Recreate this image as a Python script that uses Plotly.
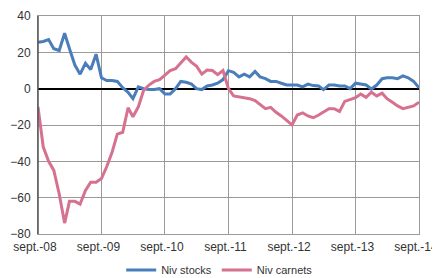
import plotly.graph_objects as go
import pandas as pd

months = pd.date_range("2008-09-01", "2014-09-01", freq="MS")

niv_stocks = [25.5, 26, 27, 22, 21, 30.5, 22, 13, 8, 14, 10.5, 19,
              6, 4.5, 4.5, 4, 0.5, -2, -5.5, 1, 0, -0.5, -0.5, 0,
              -3, -3, 0, 4, 3.5, 2.5, 0, -0.5, 1.5, 2, 3, 5,
              9.9, 9, 6.5, 8, 6.5, 9.5, 6.5, 5.5, 4, 4, 3, 2,
              2, 2, 1, 2.5, 1.7, 1.5, -0.5, 2, 2, 1.5, 1.5, 0,
              3, 2.5, 2, -0.2, 2, 5.5, 6, 6, 5.5, 7, 6, 4, 0.5]

niv_carnets = [-10, -32, -40, -45, -58, -74, -62, -62, -63.5, -56, -51.5, -51.5,
               -49.5, -43, -35, -25, -24, -10.5, -15.5, -10, -1, 2, 4, 5,
               7.5, 10, 11, 14.5, 17.5, 14.5, 12.5, 8, 10.3, 10, 7.7, 10,
               0, -4, -4.5, -4.8, -5.5, -6.5, -8.5, -11, -10.3, -13, -15, -17.6,
               -20, -14.5, -13.3, -15, -16, -14.5, -13, -11, -11, -12.5, -7, -6,
               -5, -3, -4.8, -2, -4, -2.5, -5.5, -7.5, -9.5, -11, -10.3, -9.5, -7.5]

tick_dates = ["2008-09-01", "2009-09-01", "2010-09-01", "2011-09-01",
              "2012-09-01", "2013-09-01", "2014-09-01"]
tick_labels = ["sept.-08", "sept.-09", "sept.-10", "sept.-11",
               "sept.-12", "sept.-13", "sept.-14"]
y_ticks = [-80, -60, -40, -20, 0, 20, 40]

fig = go.Figure()
fig.add_trace(go.Scatter(x=months, y=niv_stocks, mode="lines", name="Niv stocks",
                         line=dict(color="#4a7ebb", width=3)))
fig.add_trace(go.Scatter(x=months, y=niv_carnets, mode="lines", name="Niv carnets",
                         line=dict(color="#d6718f", width=3)))

# page body has an 8px margin, so the figure is sized/positioned to compensate
fig.update_layout(
    width=432, height=270,
    margin=dict(l=30, r=21, t=8, b=44, autoexpand=False),
    paper_bgcolor="white", plot_bgcolor="white",
    font=dict(family="Liberation Sans, Arial, sans-serif", size=12, color="#333333"),
    showlegend=True,
    legend=dict(orientation="h", x=0.49, xref="container", xanchor="center",
                y=0.03, yref="container", yanchor="middle",
                font=dict(size=11, color="#333333"), itemwidth=30,
                tracegroupgap=0, bgcolor="rgba(0,0,0,0)"),
)
fig.update_xaxes(
    type="date", range=["2008-09-01", "2014-09-01"],
    tickvals=tick_dates, ticktext=tick_labels, tickangle=0,
    showgrid=True, gridcolor="#9a9a9a", gridwidth=1,
    showline=True, linecolor="#9a9a9a", linewidth=1, mirror=True,
    ticks="", ticklabelstandoff=2, ticklabelshift=-3, ticklabeloverflow="allow",
    zeroline=False, tickfont=dict(size=12, color="#333333"),
)
fig.update_yaxes(
    range=[-80, 40], tickvals=y_ticks,
    showgrid=True, gridcolor="#9a9a9a", gridwidth=1,
    showline=True, linecolor="#9a9a9a", linewidth=1, mirror=True,
    zeroline=True, zerolinecolor="#000000", zerolinewidth=1.5,
    ticks="", ticklabelstandoff=4, tickfont=dict(size=12, color="#333333"),
)
fig.add_shape(type="line", xref="paper", yref="paper", x0=0, x1=0, y0=0, y1=1,
              line=dict(color="#555555", width=1.5))

fig.write_html("out.html")
